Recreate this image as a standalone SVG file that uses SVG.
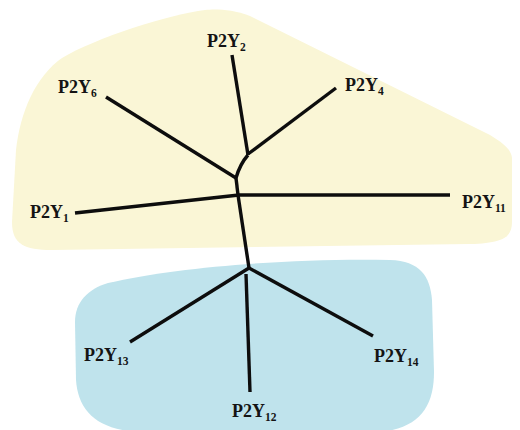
<svg xmlns="http://www.w3.org/2000/svg" width="520" height="430" viewBox="0 0 520 430">
  <style>
    .lbl { font-family: "Liberation Serif", "Times New Roman", serif; font-weight: bold; font-size: 18px; fill: #141414; }
    .sub { font-size: 11.5px; }
    .edge { fill: none; stroke: #0d0d0d; stroke-width: 3.4; stroke-linejoin: round; stroke-linecap: butt; }
  </style>
  <rect width="520" height="430" fill="#ffffff"/>
  <g id="regions">
    <path id="region-upper" fill="#faf6d6" d="M 205,10 C 170,14 95,38 62,58 C 36,76 20,112 16,150 L 12,222 C 12,244 24,250 52,250 L 470,244 C 502,243 512,238 512,222 L 512,158 C 511,150 505,144 490,135 L 250,16 C 232,9 215,9 205,10 Z"/>
    <path id="region-lower" fill="#bfe3ec" d="M 108,283 C 180,266 300,258 390,260 C 420,261 430,276 432,300 L 434,372 C 434,406 420,428 380,432 L 140,432 C 96,430 78,410 76,380 L 75,322 C 75,302 88,289 108,283 Z"/>
  </g>
  <g id="connectors">
    <path class="edge" d="M 232,55 L 248,155"/>
    <path class="edge" d="M 336,88 L 248,154"/>
    <path class="edge" d="M 248,155 Q 240,164 236,178"/>
    <path class="edge" d="M 106,97 L 236,178"/>
    <path class="edge" d="M 236,178 L 238,195"/>
    <path class="edge" d="M 75,213 L 239,195"/>
    <path class="edge" d="M 238,195 L 450,195"/>
    <path class="edge" d="M 238,195 L 249,268"/>
    <path class="edge" d="M 249,268 L 130,342"/>
    <path class="edge" d="M 249,268 L 373,336"/>
    <path class="edge" d="M 246,274 L 250,392"/>
  </g>
  <g id="P2Y2"><text class="lbl" x="207" y="47">P2Y<tspan class="sub" dy="3.5">2</tspan></text></g>
  <g id="P2Y6"><text class="lbl" x="58" y="93">P2Y<tspan class="sub" dy="3.5">6</tspan></text></g>
  <g id="P2Y4"><text class="lbl" x="345" y="91">P2Y<tspan class="sub" dy="3.5">4</tspan></text></g>
  <g id="P2Y1"><text class="lbl" x="30" y="218">P2Y<tspan class="sub" dy="3.5">1</tspan></text></g>
  <g id="P2Y11"><text class="lbl" x="462" y="208">P2Y<tspan class="sub" dy="3.5">11</tspan></text></g>
  <g id="P2Y13"><text class="lbl" x="84" y="361">P2Y<tspan class="sub" dy="3.5">13</tspan></text></g>
  <g id="P2Y14"><text class="lbl" x="374" y="362">P2Y<tspan class="sub" dy="3.5">14</tspan></text></g>
  <g id="P2Y12"><text class="lbl" x="232" y="417">P2Y<tspan class="sub" dy="3.5">12</tspan></text></g>
</svg>
